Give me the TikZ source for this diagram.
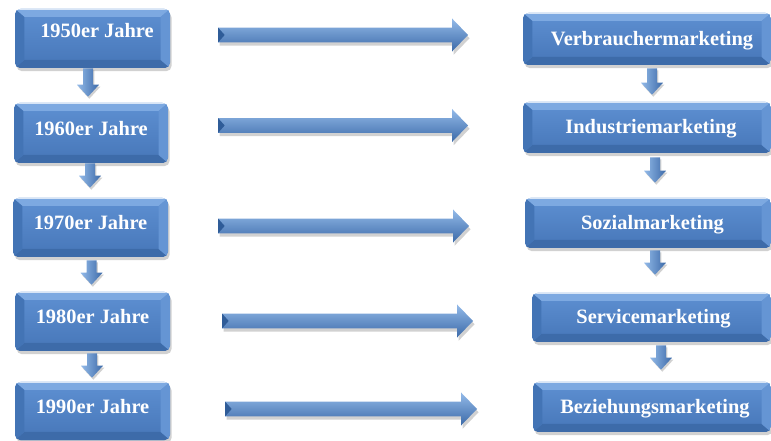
\documentclass[tikz,border=0pt]{standalone}
\usepackage{fontspec}
\setmainfont{Liberation Serif}
\usetikzlibrary{calc,shadows}
\definecolor{facetop}{HTML}{5E90D2}
\definecolor{facebot}{HTML}{4676B8}
\definecolor{bevtop}{HTML}{7DA9E1}
\definecolor{bevleft}{HTML}{4374B5}
\definecolor{bevright}{HTML}{6595D4}
\definecolor{bevbot}{HTML}{3D6BA9}
\definecolor{arrtop}{HTML}{93BAE9}
\definecolor{arrmid}{HTML}{5A8BCB}
\definecolor{arrbot}{HTML}{3C6AA8}
\definecolor{arrtailc}{HTML}{2F5C98}
\newcommand\harrpoly[4]{let \p1=(#1), \p2=(#2) in
  (\x1+#3,\y1+5.6pt+#4) -- (\x2-12pt+#3,\y1+5.6pt+#4) -- (\x2-12pt+#3,\y1+12.4pt+#4) --
  (\x2+#3,\y1+#4) -- (\x2-12pt+#3,\y1-12.4pt+#4) -- (\x2-12pt+#3,\y1-5.6pt+#4) --
  (\x1+#3,\y1-5.6pt+#4) -- cycle}
\newcommand\harrtail[1]{let \p1=(#1) in (\x1,\y1+5.6pt) -- (\x1+5pt,\y1) -- (\x1,\y1-5.6pt) -- cycle}
\newcommand\varrpoly[4]{let \p1=(#1), \p2=(#2) in
  (\x1-3.75pt+#3,\y1+#4) -- (\x1+3.75pt+#3,\y1+#4) -- (\x1+3.75pt+#3,\y2+9pt+#4) --
  (\x1+8.25pt+#3,\y2+9pt+#4) -- (\x1+#3,\y2+#4) -- (\x1-8.25pt+#3,\y2+9pt+#4) --
  (\x1-3.75pt+#3,\y2+9pt+#4) -- cycle}
\newcommand\harrow[2]{%
  \path[arrshadow] \harrpoly{#1}{#2}{1.2pt}{-2.4pt};
  \path[harrfill] \harrpoly{#1}{#2}{0pt}{0pt};
  \path[arrtail] \harrtail{#1};}
\newcommand\varrow[2]{%
  \path[arrshadow] \varrpoly{#1}{#2}{1pt}{-1.5pt};
  \path[varrfill] \varrpoly{#1}{#2}{0pt}{0pt};}
\tikzset{
  bevelbox/.style={rounded corners=4pt, top color=facetop, bottom color=facebot,
    text=white, font=\bfseries\fontsize{15.3}{18}\selectfont, inner sep=0pt,
    drop shadow={shadow xshift=1.2pt, shadow yshift=-2.4pt, opacity=0.3, fill=black!60},
    path picture={
      \path (path picture bounding box.south west) coordinate (bbA)
            (path picture bounding box.north east) coordinate (bbB);
      \fill[bevtop, sharp corners] (bbA|-bbB) -- (bbB) -- ($(bbB)+(-7pt,-6pt)$) -- ($(bbA|-bbB)+(7pt,-6pt)$) -- cycle;
      \fill[bevbot, sharp corners] (bbA) -- (bbB|-bbA) -- ($(bbB|-bbA)+(-7pt,6pt)$) -- ($(bbA)+(7pt,6pt)$) -- cycle;
      \fill[bevleft, sharp corners] (bbA) -- (bbA|-bbB) -- ($(bbA|-bbB)+(7pt,-6pt)$) -- ($(bbA)+(7pt,6pt)$) -- cycle;
      \fill[bevright, sharp corners] (bbB|-bbA) -- (bbB) -- ($(bbB)+(-7pt,-6pt)$) -- ($(bbB|-bbA)+(-7pt,6pt)$) -- cycle;
      \draw[white!70!bevtop, line width=0.8pt, sharp corners] ($(bbA|-bbB)+(3pt,-0.5pt)$) -- ($(bbB)+(-3pt,-0.5pt)$);
    }},
  leftbox/.style={bevelbox, minimum width=116.25pt, text height=10.5pt, text depth=7.4pt},
  rightbox/.style={bevelbox, text height=10pt, text depth=0.5pt},
  arrshadow/.style={fill=black, opacity=0.18},
  harrfill/.style={top color=arrtop, middle color=arrmid, bottom color=arrbot},
  varrfill/.style={left color=arrtop, right color=arrbot},
  arrtail/.style={fill=arrtailc},
}
\begin{document}
\begin{tikzpicture}[x=0.75pt, y=-0.75pt]
\useasboundingbox (0,0) rectangle (771,441);
% left column
\node[leftbox, minimum height=44.25pt, text depth=11.5pt] (L1) at (92.5,38.5) {\hspace*{6.75pt}1950er Jahre};
\node[leftbox, minimum height=45pt, minimum width=115.5pt] (L2) at (91,133) {1960er Jahre};
\node[leftbox, minimum height=44.25pt] (L3) at (90.5,227.5) {1970er Jahre};
\node[leftbox, minimum height=44.25pt] (L4) at (92.5,321.5) {1980er Jahre};
\node[leftbox, minimum height=43.5pt] (L5) at (92.5,411) {1990er Jahre};
% right column
\node[rightbox, minimum width=186pt, minimum height=39pt] (R1) at (647,39) {\hspace*{7.5pt}Verbrauchermarketing};
\node[rightbox, minimum width=186pt, minimum height=38.25pt] (R2) at (647,127.5) {\hspace*{6pt}Industriemarketing};
\node[rightbox, minimum width=184.5pt, minimum height=37.5pt] (R3) at (648,223) {\hspace*{6.75pt}Sozialmarketing};
\node[rightbox, minimum width=179.25pt, minimum height=36.75pt] (R4) at (651.5,317.5) {\hspace*{3pt}Servicemarketing};
\node[rightbox, minimum width=178.5pt, minimum height=37.5pt] (R5) at (652,407) {\hspace*{4.5pt}Beziehungsmarketing};
% horizontal arrow ends
\coordinate (h1s) at (218,35);    \coordinate (h1e) at (468,35);
\coordinate (h2s) at (218,125.5); \coordinate (h2e) at (468,125.5);
\coordinate (h3s) at (218,226);   \coordinate (h3e) at (469,226);
\coordinate (h4s) at (222,321);   \coordinate (h4e) at (473,321);
\coordinate (h5s) at (225,409);   \coordinate (h5e) at (477,409);
\harrow{h1s}{h1e}
\harrow{h2s}{h2e}
\harrow{h3s}{h3e}
\harrow{h4s}{h4e}
\harrow{h5s}{h5e}
% vertical arrows, left
\varrow{$(L1.south)+(-4.5,0)$}{$(L2.north)+(0,-6)$}
\varrow{$(L2.south)+(-1,0)$}{$(L3.north)+(0,-10)$}
\varrow{$(L3.south)+(1,3)$}{$(L4.north)+(0,-7)$}
\varrow{$(L4.south)+(-0.5,2)$}{$(L5.north)+(0,-4)$}
% vertical arrows, right
\varrow{$(R1.south)+(5,3)$}{$(R2.north)+(0,-7)$}
\varrow{$(R2.south)+(8,4)$}{$(R3.north)+(0,-15)$}
\varrow{$(R3.south)+(7,2)$}{$(R4.north)+(0,-18)$}
\varrow{$(R4.south)+(9.5,3)$}{$(R5.north)+(0,-12)$}
\end{tikzpicture}
\end{document}
